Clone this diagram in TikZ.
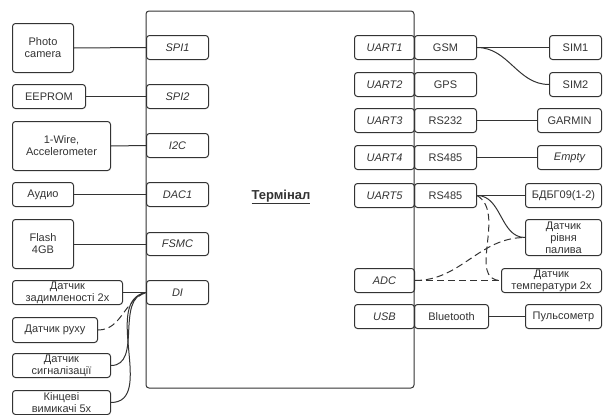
\documentclass[tikz,border=0pt]{standalone}
\usepackage{fontspec}
\setmainfont{Liberation Sans}
\definecolor{LineDark}{HTML}{333333}
\usetikzlibrary{positioning}

\begin{document}
\begin{tikzpicture}[x=1pt, y=-1pt,
  bx/.style={draw=LineDark, line width=1pt, rounded corners=3pt, anchor=north west,
    inner sep=0pt, align=center, text=LineDark, minimum height=24pt,
    font=\fontsize{11}{12}\selectfont},
  port/.style={bx, font=\fontsize{11}{12}\selectfont\itshape},
  ln/.style={draw=LineDark, line width=1pt},
  dln/.style={ln, dash pattern=on 7pt off 4pt},
]
  \useasboundingbox (0,0) rectangle (603,415);
  % Terminal body
  \draw[ln, rounded corners=3pt] (146,11) rectangle (414,388);
  \node[font=\fontsize{13}{14}\selectfont\bfseries, text=LineDark] (term) at (281,197) {\underline{Термінал}};
  % Left ports
  \node[port, minimum width=62pt] (spi1) at (146,35) {SPI1};
  \node[port, minimum width=62pt] (spi2) at (146,84) {SPI2};
  \node[port, minimum width=62pt] (i2c) at (146,133) {I2C};
  \node[port, minimum width=62pt] (dac) at (146,182) {DAC1};
  \node[port, minimum width=62pt, minimum height=23pt] (fsmc) at (146,232) {FSMC};
  \node[port, minimum width=62pt] (di) at (146,280) {DI};
  % Right ports
  \node[port, minimum width=60pt] (uart1) at (354,35) {UART1};
  \node[port, minimum width=60pt] (uart2) at (354,72) {UART2};
  \node[port, minimum width=60pt] (uart3) at (354,108) {UART3};
  \node[port, minimum width=60pt] (uart4) at (354,145) {UART4};
  \node[port, minimum width=60pt] (uart5) at (354,183) {UART5};
  \node[port, minimum width=60pt] (adc) at (354,268) {ADC};
  \node[port, minimum width=60pt] (usb) at (354,304) {USB};
  % Modules
  \node[bx, minimum width=62pt] (gsm) at (414,35) {GSM};
  \node[bx, minimum width=62pt] (gps) at (414,72) {GPS};
  \node[bx, minimum width=62pt] (rs232) at (414,108) {RS232};
  \node[bx, minimum width=62pt] (rs485a) at (414,145) {RS485};
  \node[bx, minimum width=62pt] (rs485b) at (414,183) {RS485};
  \node[bx, minimum width=74pt] (bt) at (414,304) {Bluetooth};
  % Left devices
  \node[bx, minimum width=61pt, minimum height=49pt] (cam) at (12,23) {Photo\\camera};
  \node[bx, minimum width=73pt] (eeprom) at (12,84) {EEPROM};
  \node[bx, minimum width=98pt, minimum height=49pt] (wire) at (12,121) {1-Wire,\\Accelerometer};
  \node[bx, minimum width=61pt] (audio) at (12,182) {Аудио};
  \node[bx, minimum width=61pt, minimum height=49pt] (flash) at (12,219) {Flash\\4GB};
  \node[bx, minimum width=110pt] (smoke) at (12,280) {Датчик\\задимленості 2x};
  \node[bx, minimum width=85pt, minimum height=25pt] (motion) at (12,317) {Датчик руху};
  \node[bx, minimum width=98pt] (alarm) at (12,353) {Датчик\\сигналізації};
  \node[bx, minimum width=98pt] (ends) at (12,390) {Кінцеві\\вимикачі 5x};
  % Right devices
  \node[bx, minimum width=52pt] (sim1) at (549,35) {SIM1};
  \node[bx, minimum width=52pt] (sim2) at (549,72) {SIM2};
  \node[bx, minimum width=64pt] (garmin) at (537,108) {GARMIN};
  \node[port, minimum width=64pt] (empty) at (537,145) {Empty};
  \node[bx, minimum width=76pt] (bdbg) at (525,183) {БДБГ09(1-2)};
  \node[bx, minimum width=76pt, minimum height=36pt] (fuel) at (525,219) {Датчик\\рівня\\палива};
  \node[bx, minimum width=100pt] (temp) at (501,268) {Датчик\\температури 2x};
  \node[bx, minimum width=76pt] (pulse) at (525,304) {Пульсометр};
  % Left links
  \draw[ln] (cam.east) -- (spi1.west);
  \draw[ln] (eeprom.east) -- (spi2.west);
  \draw[ln] (wire.east) -- (i2c.west);
  \draw[ln] (audio.east) -- (dac.west);
  \draw[ln] (flash.east) -- (fsmc.west);
  \draw[ln] (smoke.east) -- (di.west);
  \draw[dln] (motion.east) to[out=0, in=200] (di.west);
  \draw[ln] (alarm.east) to[out=0, in=190] (di.west);
  \draw[ln] (ends.east) to[out=0, in=190] (di.west);
  % Right links
  \draw[ln] (gsm.east) -- (sim1.west);
  \draw[ln] (gsm.east) to[out=0, in=180] (sim2.west);
  \draw[ln] (rs232.east) -- (garmin.west);
  \draw[ln] (rs485a.east) -- (empty.west);
  \draw[ln] (rs485b.east) -- (bdbg.west);
  \draw[ln] (rs485b.east) to[out=0, in=180] (fuel.west);
  \draw[dln] (rs485b.east) to[out=-30, in=180] (temp.west);
  \draw[dln] (adc.east) -- (temp.west);
  \draw[dln] (adc.east) to[out=0, in=180] (fuel.west);
  \draw[ln] (bt.east) -- (pulse.west);
\end{tikzpicture}
\end{document}
